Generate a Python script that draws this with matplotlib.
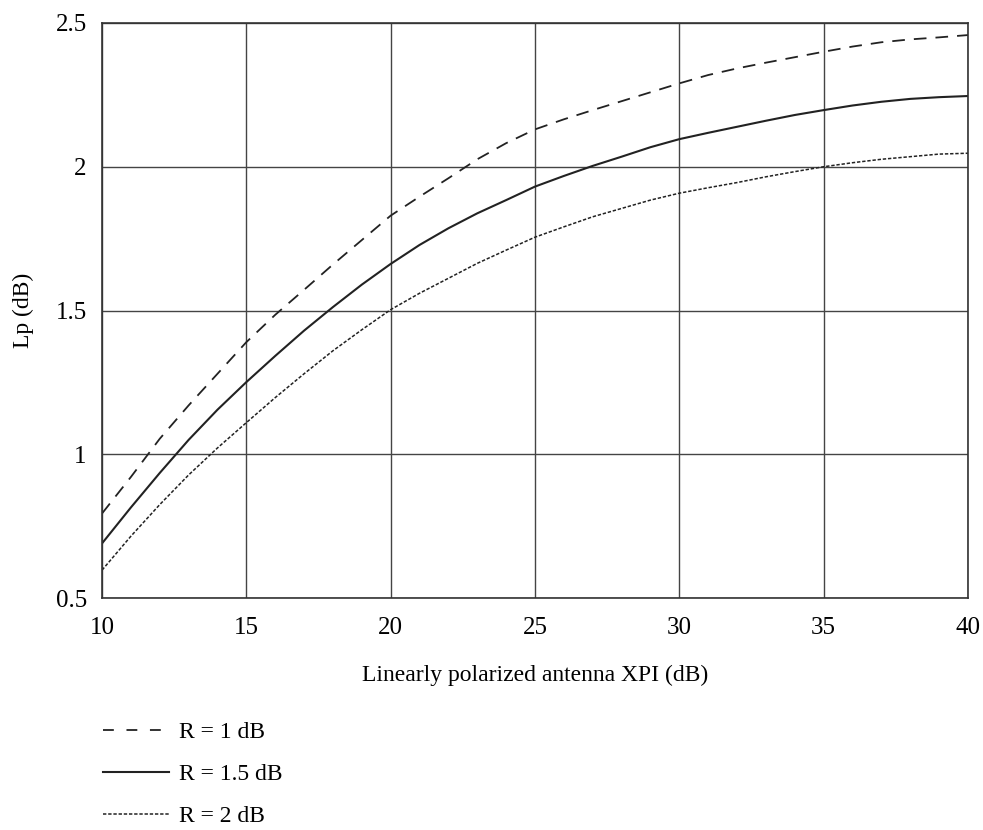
import matplotlib.pyplot as plt
from matplotlib.lines import Line2D

plt.rcParams['font.family'] = ['Liberation Serif', 'DejaVu Serif']

# XPI (dB) read at every 1 dB
xpi = list(range(10, 41))

# R = 1 dB (dashed)
lp_r1 = [0.794, 0.921, 1.054, 1.170, 1.280, 1.390, 1.485, 1.572, 1.660, 1.745,
         1.830, 1.896, 1.960, 2.026, 2.082, 2.130, 2.165, 2.197, 2.228, 2.259,
         2.290, 2.319, 2.342, 2.362, 2.381, 2.400, 2.418, 2.433, 2.443, 2.450,
         2.458]
# R = 1.5 dB (solid)
lp_r15 = [0.690, 0.815, 0.935, 1.050, 1.155, 1.251, 1.342, 1.430, 1.512, 1.590,
          1.662, 1.728, 1.786, 1.838, 1.884, 1.931, 1.968, 2.003, 2.035, 2.068,
          2.096, 2.118, 2.139, 2.160, 2.180, 2.197, 2.213, 2.226, 2.236, 2.242,
          2.246]
# R = 2 dB (dotted)
lp_r2 = [0.597, 0.715, 0.825, 0.928, 1.022, 1.110, 1.197, 1.280, 1.360, 1.433,
         1.503, 1.560, 1.612, 1.664, 1.710, 1.755, 1.791, 1.826, 1.855, 1.884,
         1.908, 1.927, 1.945, 1.965, 1.983, 2.000, 2.014, 2.026, 2.035, 2.044,
         2.047]

labels = ['R = 1 dB', 'R = 1.5 dB', 'R = 2 dB']
styles = [(0, (7, 5)), '-', (0, (2.2, 1.2))]
legend_styles = [(0, (6, 7)), '-', (0, (2.2, 1.2))]
widths = [1.3, 1.5, 1.1]

fig = plt.figure(figsize=(9.83, 8.3), dpi=100)
ax = fig.add_axes([0.1038, 0.2795, 0.8809, 0.6928])

for ys, ls, lw in zip([lp_r1, lp_r15, lp_r2], styles, widths):
    ax.plot(xpi, ys, color='#222222', linestyle=ls, linewidth=lw)

ax.set_xlim(10, 40)
ax.set_ylim(0.5, 2.5)
ax.set_xticks([10, 15, 20, 25, 30, 35, 40])
ax.set_yticks([0.5, 1, 1.5, 2, 2.5])
ax.set_yticklabels(['0.5', '1', '1.5', '2', '2.5'])
ax.grid(True, color='#444444', linewidth=1.0)
ax.tick_params(length=0, labelsize=18)
ax.tick_params(axis='x', pad=14)
ax.tick_params(axis='y', pad=11)
for s in ax.spines.values():
    s.set_color('#333333')
    s.set_linewidth(1.2)

ax.set_xlabel('Linearly polarized antenna XPI (dB)', fontsize=17)
ax.set_ylabel('Lp (dB)', fontsize=17)
ax.xaxis.set_label_coords(0.5, -0.116)
ax.yaxis.set_label_coords(-0.079, 0.5)

handles = [Line2D([], [], color='#222222', linestyle=ls, linewidth=lw)
           for ls, lw in zip(legend_styles, widths)]
fig.legend(handles, labels, loc='upper left', bbox_to_anchor=(0.095, 0.142),
           frameon=False, fontsize=17, handlelength=2.8, handletextpad=0.42,
           labelspacing=0.86, borderaxespad=0)

fig.savefig('out.png', dpi=100, facecolor='white')
